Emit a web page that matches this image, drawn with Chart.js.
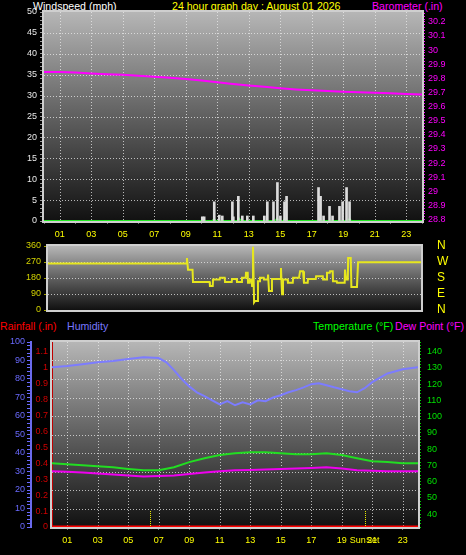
<!DOCTYPE html>
<html>
<head>
<meta charset="utf-8">
<script src="https://cdn.jsdelivr.net/npm/chart.js@4.4.1/dist/chart.umd.min.js"></script>
<style>
  body { margin: 0; background: #000; width: 466px; height: 555px; overflow: hidden; position: relative;
         font-family: "Liberation Sans", Arial, sans-serif; }
  canvas { position: absolute; left: 0; }
  .t { position: absolute; font-size: 10.6px; line-height: 12px; white-space: nowrap; }
</style>
</head>
<body>
<div class="t" style="left:33px;top:0;color:#fff">Windspeed (mph)</div>
<div class="t" style="left:172px;top:0;color:#ffff00">24 hour graph day : August 01 2026</div>
<div class="t" style="left:372px;top:0;color:#ff00ff">Barometer (.in)</div>
<div class="t" style="left:0;top:320px;color:#ff0000">Rainfall (.in)</div>
<div class="t" style="left:67px;top:320px;color:#7878ff">Humidity</div>
<div class="t" style="left:313px;top:320px;color:#00ff00">Temperature (°F)</div>
<div class="t" style="left:395px;top:320px;color:#ff00ff">Dew Point (°F)</div>

<canvas id="wind" width="466" height="244" style="top:0"></canvas>
<canvas id="dir" width="466" height="86" style="top:234px"></canvas>
<canvas id="climate" width="466" height="225" style="top:330px"></canvas>

<script>
// hours along the bottom
var hourTicks = [1, 3, 5, 7, 9, 11, 13, 15, 17, 19, 21, 23];
var hourLabels = ["01", "03", "05", "07", "09", "11", "13", "15", "17", "19", "21", "23"];

// barometer (.in), hourly
var baroHours = [0, 1, 2, 3, 4, 5, 6, 7, 8, 9, 10, 11, 12, 13, 14, 15, 16, 17, 18, 19, 20, 21, 22, 23, 24];
var baroValues = [29.845, 29.845, 29.842, 29.835, 29.83, 29.825, 29.818, 29.812, 29.805, 29.795, 29.785, 29.772,
                  29.76, 29.75, 29.74, 29.73, 29.722, 29.716, 29.71, 29.706, 29.702, 29.698, 29.694, 29.69, 29.686];

// wind gusts (mph)
var gustHours = [10.05, 10.17, 10.81, 11.13, 11.32, 11.96, 12.02, 12.34, 12.59, 12.91, 13.29, 13.99, 14.18, 14.57,
                 14.82, 15.01, 15.27, 15.4, 17.43, 17.56, 17.75, 18.13, 18.32, 18.76, 18.96, 19.21, 19.4];
var gustSpeeds = [1, 1, 4.6, 1.4, 1.2, 4.6, 1, 5.9, 1.2, 1.2, 1.2, 1.2, 4.6, 4.6,
                  9.2, 1.2, 4.6, 5.9, 8, 5.9, 1.2, 3.5, 1.2, 3.5, 4.6, 8, 4.6];

// average wind (mph)
var avgHours = [0, 10.7, 10.8, 10.9, 12.3, 12.4, 12.5, 14.7, 14.8, 14.9, 15.2, 15.3, 15.4, 17.4, 17.5, 17.6, 19.3, 19.4, 19.5, 24];
var avgSpeeds = [0, 0, 0.5, 0, 0, 0.5, 0, 0, 0.6, 0, 0, 0.6, 0, 0, 0.5, 0, 0, 0.5, 0, 0];

// wind direction (degrees)
var dirHours = [0, 8.9, 8.94, 9.01, 9.3, 9.33, 10.4, 10.42, 10.6, 10.62, 11.05, 11.07, 11.37, 11.39, 11.82, 11.84,
                12.14, 12.16, 12.46, 12.48, 12.72, 12.74, 12.85, 12.87, 12.98, 13.0, 13.11, 13.13, 13.19, 13.26,
                13.32, 13.49, 13.51, 13.62, 13.64, 13.88, 13.9, 14.14, 14.16, 14.22, 14.39, 14.41, 14.95, 14.99,
                15.06, 15.12, 15.42, 15.44, 15.75, 15.77, 16.15, 16.22, 16.41, 16.47, 16.71, 16.73, 17.23, 17.25,
                17.68, 17.7, 17.93, 17.95, 18.13, 18.15, 18.32, 18.34, 18.58, 18.6, 19.09, 19.11, 19.18, 19.29,
                19.31, 19.48, 19.52, 19.88, 19.95, 24];
var dirValues = [262, 262, 292, 227, 227, 157, 157, 135, 135, 172, 172, 181, 181, 157, 157, 175,
                 175, 157, 157, 181, 181, 209, 209, 153, 153, 172, 172, 135, 356, 43,
                 51, 51, 162, 162, 181, 181, 172, 172, 199, 107, 107, 175, 175, 236,
                 89, 172, 172, 153, 153, 181, 181, 218, 218, 153, 153, 175, 175, 190,
                 190, 172, 172, 209, 209, 218, 218, 162, 162, 153, 153, 227, 172, 172,
                 292, 292, 130, 130, 268, 268];
var compassLabels = ["N", "E", "S", "W", "N"];

// humidity (%)
var humHours = [0, 1, 2, 3, 4, 5, 6, 7, 7.5, 8, 8.5, 9, 9.5, 10, 10.5, 11, 11.5, 12, 12.5, 13, 13.5, 14, 14.5,
                15, 15.5, 16, 16.5, 17, 17.5, 18, 18.5, 19, 19.5, 20, 20.5, 21, 22, 23, 24];
var humidity = [86.4, 87, 88, 89, 89.7, 90.8, 91.8, 91.3, 89, 84.8, 80, 76, 72.8, 70.7, 68.5, 66.3, 68, 65.8, 67.4,
                66.3, 68.5, 68, 70, 71.2, 72.8, 74, 75.5, 77.2, 77.7, 76.6, 75.5, 74.5, 73.4, 72.8, 75, 78.3, 83, 85.3, 86.4];

// temperature and dew point (°F), hourly
var tempHours = [0, 1, 2, 3, 4, 5, 6, 7, 8, 9, 10, 11, 12, 13, 14, 15, 16, 17, 18, 19, 20, 21, 22, 23, 24];
var temperature = [71.3, 70.6, 70, 69.4, 68.8, 67.8, 66.9, 67, 68.8, 72, 74.4, 76.3, 77.5, 78.1, 78.1, 77.5, 76.9,
                   76.9, 77.5, 76.3, 74.4, 72.5, 72, 71.3, 71.3];
var dewPoint = [66.3, 66, 65.6, 65, 64.4, 63.8, 63.1, 63.4, 63.8, 64.7, 65.6, 66.3, 66.9, 67.2, 67.5, 67.8, 68.1,
                68.4, 68.8, 68.1, 66.9, 66.6, 66.3, 66.3, 66.3];

// rainfall (.in)
var rainHours = [0, 24];
var rainfall = [0, 0];

// sunrise / sunset
var sunHours = [6.4, 20.5];
var sunLabel = "SunSet";

Chart.defaults.font.family = '"Liberation Sans", Arial, sans-serif';
Chart.defaults.font.size = 9;

function pts(xs, ys) {
    return xs.map(function (x, i) { return { x: x, y: ys[i] }; });
}
function hourAxis(height) {
    return {
        type: "linear", min: 0, max: 24, offset: false,
        afterBuildTicks: function (s) { s.ticks = hourTicks.map(function (h) { return { value: h }; }); },
        afterFit: function (s) { s.height = height; },
        ticks: { color: "#ffff00", padding: 5, maxRotation: 0, autoSkip: false,
                 callback: function (v, i) { return hourLabels[i]; } },
        grid: { drawOnChartArea: false, tickColor: "#707070", tickLength: 3 },
        border: { display: false }
    };
}

// gradient, dotted grid (at every labelled tick of the listed scales) and frame
var panelBg = {
    id: "panelBg",
    beforeDraw: function (chart) {
        var a = chart.chartArea, c = chart.ctx;
        var g = c.createLinearGradient(0, a.top, 0, a.bottom);
        g.addColorStop(0, "#b6b6b6");
        g.addColorStop(0.45, "#686868");
        g.addColorStop(1, "#111111");
        c.save();
        c.fillStyle = g;
        c.fillRect(a.left, a.top, a.right - a.left, a.bottom - a.top);
        c.restore();
    },
    beforeDatasetsDraw: function (chart, args, opts) {
        var a = chart.chartArea, c = chart.ctx;
        c.save();
        c.strokeStyle = "rgba(235,235,235,0.75)";
        c.lineWidth = 1;
        c.setLineDash([1, 2]);
        (opts.grids || []).forEach(function (id) {
            var s = chart.scales[id];
            s.ticks.forEach(function (t) {
                if (t.label === "" || t.label === undefined) { return; }
                var p = Math.round(s.getPixelForValue(t.value)) + 0.5;
                c.beginPath();
                if (s.isHorizontal()) {
                    if (p < a.left + 2 || p > a.right - 2) { return; }
                    c.moveTo(p, a.top); c.lineTo(p, a.bottom);
                } else {
                    if (p < a.top + 2 || p > a.bottom - 2) { return; }
                    c.moveTo(a.left, p); c.lineTo(a.right, p);
                }
                c.stroke();
            });
        });
        c.setLineDash([]);
        c.strokeStyle = "#cfcfcf";
        c.lineWidth = 2;
        c.strokeRect(a.left - 1, a.top - 1, a.right - a.left + 2, a.bottom - a.top + 2);
        c.restore();
    }
};

function baseOptions(grids) {
    return {
        animation: false, responsive: false, events: [],
        plugins: { legend: { display: false }, tooltip: { enabled: false }, panelBg: { grids: grids } },
        elements: { point: { radius: 0 }, line: { tension: 0 } }
    };
}

// ---- windspeed / barometer
new Chart(document.getElementById("wind"), {
    type: "line",
    data: {
        datasets: [
            { type: "line", data: pts(baroHours, baroValues), yAxisID: "baro", borderColor: "#ff00ff", borderWidth: 2 },
            { type: "bar", data: pts(gustHours, gustSpeeds), yAxisID: "wspd", backgroundColor: "#dcdcdc", barThickness: 2 },
            { type: "line", data: pts(avgHours, avgSpeeds), yAxisID: "wspd", borderColor: "#22e822", borderWidth: 2 }
        ]
    },
    options: Object.assign(baseOptions(["x", "wspd"]), {
        layout: { padding: { top: 12 } },
        scales: {
            x: hourAxis(23),
            wspd: {
                position: "left", min: 0, max: 50,
                afterFit: function (s) { s.width = 44; },
                ticks: { stepSize: 1, autoSkip: false, color: "#e8e8e8", padding: 3,
                         callback: function (v) { return v % 5 === 0 ? v : ""; } },
                grid: { drawOnChartArea: false, tickColor: "#9a9a9a", tickLength: 4 },
                border: { display: false }
            },
            baro: {
                position: "right", min: 28.79, max: 30.27,
                afterFit: function (s) { s.width = 44; },
                afterBuildTicks: function (s) {
                    s.ticks = s.ticks.filter(function (t) { return Math.round(t.value * 100) % 2 === 0; });
                },
                ticks: { stepSize: 0.01, autoSkip: false, color: "#ff00ff", padding: 3,
                         callback: function (v) { return Math.round(v * 100) % 10 === 0 ? String(Math.round(v * 10) / 10) : ""; } },
                grid: { drawOnChartArea: false, tickColor: "#ff00ff", tickLength: 3 },
                border: { display: true, color: "#ff00ff", width: 1 }
            }
        }
    }),
    plugins: [panelBg]
});

// ---- wind direction
new Chart(document.getElementById("dir"), {
    type: "line",
    data: {
        datasets: [
            { data: pts(dirHours, dirValues), yAxisID: "deg", borderColor: "#e6e61e", borderWidth: 2 }
        ]
    },
    options: Object.assign(baseOptions(["deg"]), {
        layout: { padding: { top: 12, bottom: 10 } },
        scales: {
            x: { type: "linear", min: 0, max: 24, display: false },
            deg: {
                position: "left", min: 0, max: 360,
                afterFit: function (s) { s.width = 48; },
                ticks: { stepSize: 90, autoSkip: false, color: "#d2d200", padding: 3 },
                grid: { drawOnChartArea: false, tickColor: "#a0a000", tickLength: 4 },
                border: { display: false }
            },
            compass: {
                position: "right", min: 0, max: 360,
                afterFit: function (s) { s.width = 45; },
                ticks: { stepSize: 90, autoSkip: false, color: "#ffff00", padding: 1, font: { size: 12 },
                         callback: function (v, i) { return compassLabels[i]; } },
                grid: { drawOnChartArea: false, drawTicks: true, tickLength: 15, tickColor: "rgba(0,0,0,0)" },
                border: { display: false }
            }
        }
    }),
    plugins: [panelBg]
});

// ---- rain / humidity / temperature / dew point
var sunMarks = {
    id: "sunMarks",
    afterDatasetsDraw: function (chart) {
        var xs = chart.scales.x, a = chart.chartArea, c = chart.ctx;
        c.save();
        c.strokeStyle = "#e8e800";
        c.lineWidth = 1;
        c.setLineDash([1, 1]);
        sunHours.forEach(function (h) {
            var px = Math.round(xs.getPixelForValue(h)) + 0.5;
            c.beginPath();
            c.moveTo(px, a.bottom - 16);
            c.lineTo(px, a.bottom);
            c.stroke();
        });
        c.restore();
    },
    afterDraw: function (chart) {
        var xs = chart.scales.x, a = chart.chartArea, c = chart.ctx;
        c.save();
        c.fillStyle = "#ffff00";
        c.font = '9px "Liberation Sans", Arial, sans-serif';
        c.textAlign = "center";
        c.textBaseline = "middle";
        c.fillText(sunLabel, xs.getPixelForValue(sunHours[1]), a.bottom + 14);
        c.restore();
    }
};

new Chart(document.getElementById("climate"), {
    type: "line",
    data: {
        datasets: [
            { data: pts(humHours, humidity), yAxisID: "hum", borderColor: "#7c7cff", borderWidth: 2 },
            { data: pts(tempHours, temperature), yAxisID: "temp", borderColor: "#22dd22", borderWidth: 2 },
            { data: pts(tempHours, dewPoint), yAxisID: "temp", borderColor: "#ee00ee", borderWidth: 2 },
            { data: pts(rainHours, rainfall), yAxisID: "rain", borderColor: "#ff0000", borderWidth: 3 }
        ]
    },
    options: Object.assign(baseOptions(["x", "hum"]), {
        layout: { padding: { top: 12 } },
        scales: {
            x: hourAxis(28),
            hum: {
                position: "left", weight: 2, min: 0, max: 100,
                afterFit: function (s) { s.width = 31; },
                ticks: { stepSize: 2, autoSkip: false, color: "#6a6aff", padding: 2,
                         callback: function (v) { return v % 10 === 0 ? v : ""; } },
                grid: { drawOnChartArea: false, tickColor: "#6a6aff", tickLength: 4 },
                border: { display: true, color: "#6a6aee", width: 2 }
            },
            rain: {
                position: "left", weight: 1, min: 0, max: 1.16,
                afterFit: function (s) { s.width = 21; },
                ticks: { stepSize: 0.02, autoSkip: false, color: "#d00000", padding: 2,
                         callback: function (v) { return Math.round(v * 100) % 10 === 0 ? String(Math.round(v * 10) / 10) : ""; } },
                grid: { drawOnChartArea: false, tickColor: "#c00000", tickLength: 2 },
                border: { display: true, color: "#c00000", width: 1 }
            },
            temp: {
                position: "right", min: 32, max: 146,
                afterFit: function (s) { s.width = 48; },
                ticks: { stepSize: 2, autoSkip: false, color: "#00e000", padding: 6,
                         callback: function (v) { return v % 10 === 0 ? v : ""; } },
                grid: { drawOnChartArea: false, tickColor: "#00c800", tickLength: 3 },
                border: { display: true, color: "#00c800", width: 1 }
            }
        }
    }),
    plugins: [panelBg, sunMarks]
});
</script>
</body>
</html>
